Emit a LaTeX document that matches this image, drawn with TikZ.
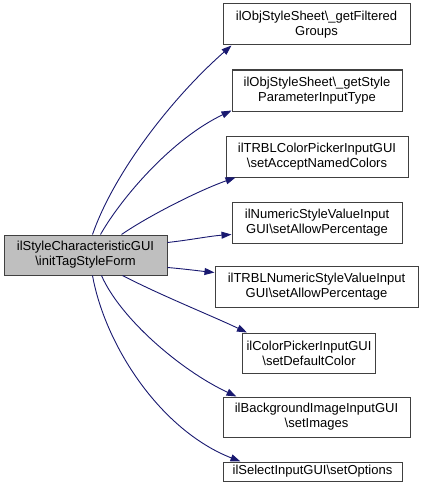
\documentclass[tikz,border=0pt]{standalone}
\usepackage{fontspec}
\setmainfont{Liberation Sans}
\usetikzlibrary{arrows.meta}
\definecolor{edgeblue}{RGB}{25,25,112}
\definecolor{boxgray}{RGB}{191,191,191}
\definecolor{bordergray}{RGB}{64,64,64}
\tikzset{
  fn/.style={draw=bordergray, line width=1pt, fill=white, rectangle, inner sep=0pt,
    align=center, font=\fontsize{13}{15}\selectfont, minimum height=41pt},
  cur/.style={fn, fill=boxgray},
  edge/.style={draw=edgeblue, line width=0.9pt, -{Triangle[length=10pt,width=7pt]}},
}
\begin{document}
\begin{tikzpicture}[x=1pt,y=-1pt]
\useasboundingbox (0,0) rectangle (424,495);
\node[cur, minimum width=163pt, minimum height=40pt] (L) at (85.5,255) {ilStyleCharacteristicGUI\\\textbackslash initTagStyleForm};
\node[fn, minimum width=187pt] (B1) at (316.5,24.5) {ilObjStyleSheet\textbackslash\_getFiltered\\Groups};
\node[fn, minimum width=170pt] (B2) at (317,90.5) {ilObjStyleSheet\textbackslash\_getStyle\\ParameterInputType};
\node[fn, minimum width=182pt] (B3) at (317,156.5) {ilTRBLColorPickerInputGUI\\\textbackslash setAcceptNamedColors};
\node[fn, minimum width=170pt] (B4) at (317,222.5) {ilNumericStyleValueInput\\GUI\textbackslash setAllowPercentage};
\node[fn, minimum width=203pt] (B5) at (316.5,286.5) {ilTRBLNumericStyleValueInput\\GUI\textbackslash setAllowPercentage};
\node[fn, minimum width=133pt, minimum height=40pt] (B6) at (309,353) {ilColorPickerInputGUI\\\textbackslash setDefaultColor};
\node[fn, minimum width=187pt, minimum height=40pt] (B7) at (316.5,417) {ilBackgroundImageInputGUI\\\textbackslash setImages};
\node[fn, minimum width=179pt, minimum height=19pt] (B8) at (312.5,471.5) {ilSelectInputGUI\textbackslash setOptions};
% edges
\draw[edge] ([xshift=89pt]L.north west) .. controls (115,170) and (175,95) .. ([xshift=9pt]B1.south west);
\draw[edge] ([xshift=97pt]L.north west) .. controls (120,200) and (170,140) .. ([yshift=1pt]B2.south west);
\draw[edge] ([xshift=118pt]L.north west) .. controls (150,215) and (200,190) .. ([xshift=10pt]B3.south west);
\draw[edge] ([yshift=-8pt]L.north east) .. controls (190,240) and (210,236) .. ([yshift=9pt]B4.south west);
\draw[edge] ([yshift=8pt]L.south east) .. controls (185,269) and (200,271) .. ([yshift=-7pt]B5.north west);
\draw[edge] ([xshift=119pt]L.south west) .. controls (160,295) and (210,315) .. ([xshift=5pt]B6.north west);
\draw[edge] ([xshift=98pt]L.south west) .. controls (120,318) and (180,370) .. ([xshift=14pt]B7.north west);
\draw[edge] ([xshift=89pt]L.south west) .. controls (105,345) and (160,430) .. ([xshift=18pt]B8.north west);
\end{tikzpicture}
\end{document}
